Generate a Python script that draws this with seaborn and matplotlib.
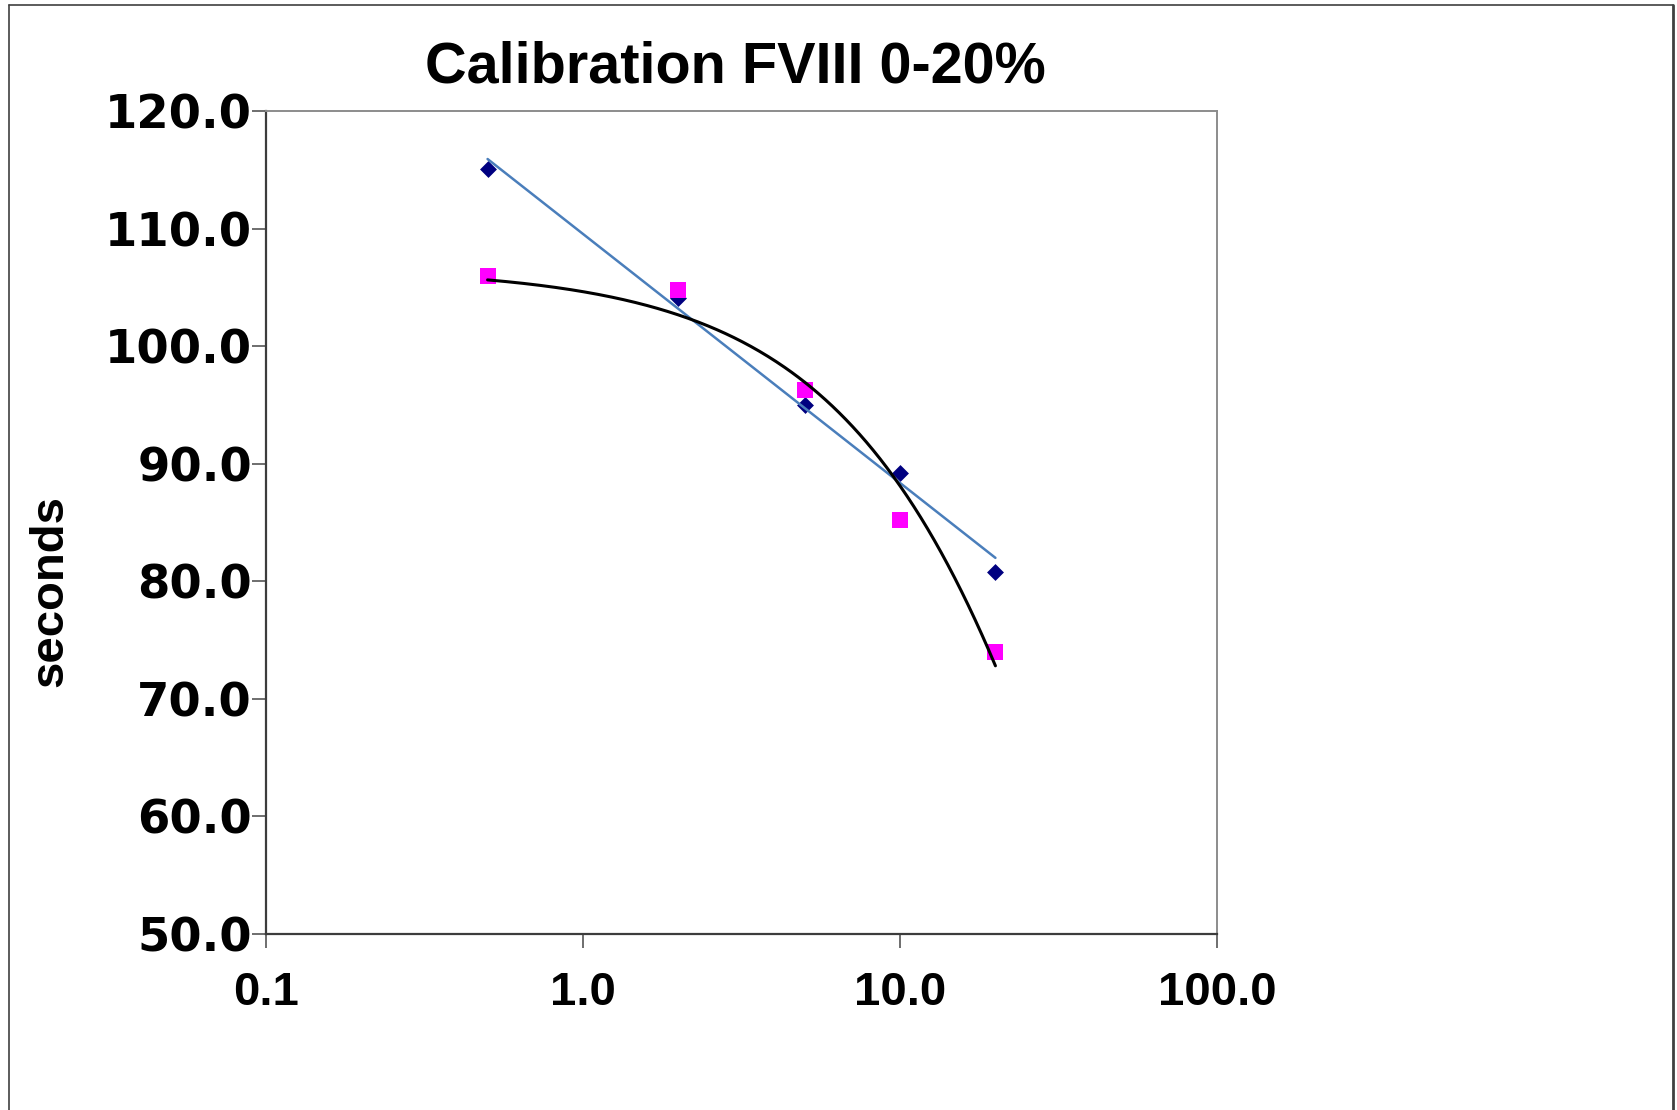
import numpy as np
import pandas as pd
import matplotlib
matplotlib.use("Agg")
import matplotlib.pyplot as plt
import seaborn as sns
from matplotlib.lines import Line2D
from matplotlib.ticker import NullLocator

# ---- data ----
conc = [0.5, 2, 5, 10, 20]                    # FVIII %
series_diamond = [115.1, 104.1, 95.0, 89.2, 80.8]
series_square = [106.0, 104.8, 96.3, 85.2, 74.0]
x_ticks = [0.1, 1, 10, 100]
x_tick_labels = ["0.1", "1.0", "10.0", "100.0"]
y_ticks = [50, 60, 70, 80, 90, 100, 110, 120]
y_tick_labels = [f"{v:.1f}" for v in y_ticks]
title_text = "Calibration FVIII 0-20%"
y_label_text = "seconds"

sns.set_style("white")
plt.rcParams["font.family"] = ["Liberation Sans", "DejaVu Sans"]
plt.rcParams["text.color"] = "black"

W, H = 1677, 1110
fig = plt.figure(figsize=(W / 100, H / 100), dpi=100)
fig.patch.set_facecolor("white")

left_px, right_px, top_px, bot_px = 266, 1217, 111.2, 933.7
ax = fig.add_axes([left_px / W, 1 - bot_px / H, (right_px - left_px) / W, (bot_px - top_px) / H])
ax.set_xscale("log")

df = pd.DataFrame({"conc": conc, "diamond": series_diamond, "square": series_square})

# trendlines (as spreadsheet trendlines: logarithmic for diamonds, exponential for squares)
xs = np.geomspace(min(conc), max(conc), 300)
coef_a = np.polyfit(np.log(conc), series_diamond, 1)
fit_a = np.polyval(coef_a, np.log(xs))
coef_b = np.polyfit(conc, np.log(series_square), 1)
fit_b = np.exp(np.polyval(coef_b, xs))
trend = pd.DataFrame({"x": xs, "log_fit": fit_a, "exp_fit": fit_b})

sns.scatterplot(data=df, x="conc", y="diamond", marker="D", s=74, color="#000080",
                linewidth=0, ax=ax, zorder=3)
sns.scatterplot(data=df, x="conc", y="square", marker="s", s=118, color="#FF00FF",
                linewidth=0, ax=ax, zorder=4)
sns.lineplot(data=trend, x="x", y="log_fit", color="#4A7EBB", linewidth=1.8, ax=ax,
             zorder=5, sort=False)
sns.lineplot(data=trend, x="x", y="exp_fit", color="black", linewidth=2.2, ax=ax,
             zorder=5, sort=False)

ax.set_xlim(0.1, 100)
ax.set_ylim(50, 120)
ax.set_xticks(x_ticks)
ax.set_xticklabels(x_tick_labels, fontfamily="Liberation Sans", fontweight="bold", fontsize=34)
ax.xaxis.set_minor_locator(NullLocator())
ax.set_yticks(y_ticks)
ax.set_yticklabels(y_tick_labels, fontfamily="DejaVu Sans", fontweight="bold", fontsize=33.5)
ax.set_xlabel("")
ax.set_ylabel("")
ax.grid(False)

ax.tick_params(axis="both", which="major", direction="out", length=10, width=1.2,
               color="#555555", left=True, bottom=True, labelcolor="black")
ax.tick_params(axis="y", pad=0)
ax.tick_params(axis="x", pad=17)

for side in ["left", "bottom"]:
    ax.spines[side].set_color("#3c3c3c")
    ax.spines[side].set_linewidth(1.6)
for side in ["top", "right"]:
    ax.spines[side].set_color("#8c8c8c")
    ax.spines[side].set_linewidth(1.4)

fig.text(735 / W, 1 - 82.3 / H, title_text, ha="center", va="baseline", color="black",
         fontsize=41.5, fontweight="bold", fontfamily="Liberation Sans")
fig.text(50 / W, 1 - 591 / H, y_label_text, ha="center", va="center", rotation=90,
         color="black", fontsize=34, fontweight="bold", fontfamily="Liberation Sans")

# outer chart border (bottom edge falls outside the picture)
bx0, bx1, by = 8.5 / W, 1673 / W, 1 - 5.3 / H
fig.add_artist(Line2D([bx0, bx0], [0, by], transform=fig.transFigure, color="#404040", lw=1.2))
fig.add_artist(Line2D([bx0, bx1], [by, by], transform=fig.transFigure, color="#404040", lw=1.2))
fig.add_artist(Line2D([bx1, bx1], [0, by], transform=fig.transFigure, color="#404040", lw=2.0))

fig.savefig("out.png", dpi=100, facecolor="white")
